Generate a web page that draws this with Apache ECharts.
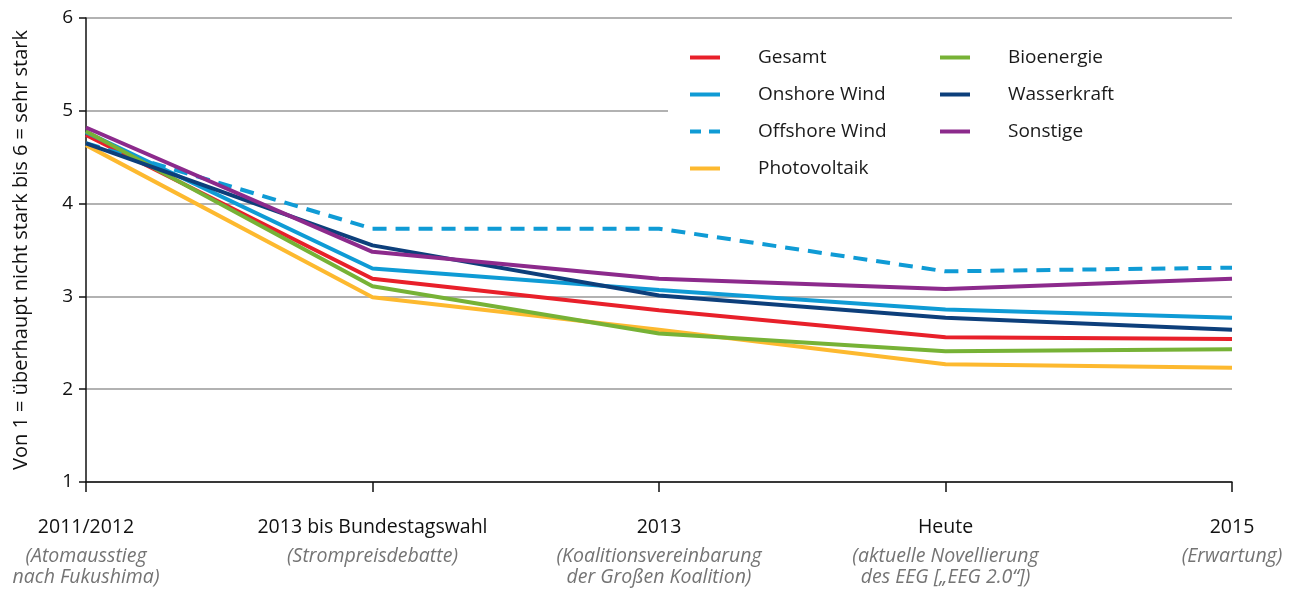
<!DOCTYPE html>
<html><head><meta charset="utf-8">
<script src="https://cdn.jsdelivr.net/npm/echarts@6/dist/echarts.min.js"></script>
<style>html,body{margin:0;padding:0;background:#fff}#c{width:1298px;height:590px}</style>
</head><body><div id="c"></div>
<script>
const categories = ['2011/2012', '2013 bis Bundestagswahl', '2013', 'Heute', '2015'];
const subtitles = ['(Atomausstieg\nnach Fukushima)', '(Strompreisdebatte)', '(Koalitionsvereinbarung\nder Großen Koalition)', '(aktuelle Novellierung\ndes EEG [„EEG 2.0“])', '(Erwartung)'];
const gesamt = [4.74, 3.19, 2.85, 2.56, 2.54];
const onshore = [4.77, 3.30, 3.07, 2.86, 2.77];
const offshore = [4.65, 3.73, 3.73, 3.27, 3.31];
const photovoltaik = [4.63, 2.99, 2.64, 2.27, 2.23];
const bioenergie = [4.78, 3.11, 2.60, 2.41, 2.43];
const wasserkraft = [4.65, 3.55, 3.01, 2.77, 2.64];
const sonstige = [4.82, 3.48, 3.19, 3.08, 3.19];
const yTicks = [1, 2, 3, 4, 5, 6];

const FONT = 'Open Sans';
const colors = {
  Gesamt: '#e8202a', 'Onshore Wind': '#0f9bd5', 'Offshore Wind': '#0f9bd5',
  Photovoltaik: '#fdb92f', Bioenergie: '#77b236', Wasserkraft: '#0d3f7b', Sonstige: '#8c2a8c'
};
function mk(name, data, dashed) {
  return {
    name, type: 'line', data, symbol: 'none', smooth: false,
    itemStyle: { color: colors[name] },
    lineStyle: { color: colors[name], width: 4, type: dashed ? [14, 9] : 'solid', cap: 'butt' },
    z: 2
  };
}
const chart = echarts.init(document.getElementById('c'));
const legendCommon = {
  orient: 'vertical', itemWidth: 30, itemHeight: 4, itemGap: 18,
  icon: 'rect',
  textStyle: { fontFamily: FONT, fontSize: 19, color: '#1a1a1a', lineHeight: 18, padding: [0, 0, 0, 33] },
  z: 4
};
chart.setOption({
  animation: false,
  backgroundColor: '#fff',
  grid: { left: 86, right: 66, top: 18, bottom: 108 },
  graphic: [{ type: 'rect', shape: { x: 668, y: 36, width: 564, height: 146 }, style: { fill: '#fff' }, z: 3, silent: true }],
  legend: [
    Object.assign({}, legendCommon, { left: 685, top: 43, data: ['Gesamt', 'Onshore Wind', { name: 'Offshore Wind', icon: 'path://M0,0h11v4h-11z M19,0h11v4h-11z' }, 'Photovoltaik'] }),
    Object.assign({}, legendCommon, { left: 935, top: 43, data: ['Bioenergie', 'Wasserkraft', 'Sonstige'] })
  ],
  xAxis: {
    type: 'category', data: categories, boundaryGap: false,
    axisLine: { lineStyle: { color: '#111', width: 1.5 } },
    axisTick: { show: true, length: 10, alignWithLabel: true, lineStyle: { color: '#111', width: 1.5 } },
    axisLabel: {
      interval: 0, margin: 26,
      formatter: (v, i) => '{a|' + v + '}\n' + subtitles[i].split('\n').map(s => '{b|' + s + '}').join('\n'),
      rich: {
        a: { fontFamily: FONT, fontSize: 19.5, color: '#111', lineHeight: 38, align: 'center' },
        b: { fontFamily: FONT, fontSize: 19.5, fontStyle: 'italic', color: '#747474', lineHeight: 21, align: 'center' }
      }
    },
    splitLine: { show: false }
  },
  yAxis: {
    type: 'value', min: 1, max: 6, interval: 1,
    name: 'Von 1 = überhaupt nicht stark bis 6 = sehr stark',
    nameLocation: 'middle', nameGap: 55,
    nameTextStyle: { fontFamily: FONT, fontSize: 20, color: '#111' },
    axisLine: { show: true, lineStyle: { color: '#111', width: 1.5 } },
    axisTick: { show: true, length: 7, lineStyle: { color: '#111', width: 1.5 } },
    axisLabel: { fontFamily: FONT, fontSize: 19, color: '#111', margin: 13, formatter: v => yTicks.includes(v) ? String(v) : '' },
    splitLine: { show: true, lineStyle: { color: '#999', width: 1.5 } }
  },
  series: [
    mk('Gesamt', gesamt), mk('Onshore Wind', onshore), mk('Offshore Wind', offshore, true),
    mk('Photovoltaik', photovoltaik), mk('Bioenergie', bioenergie), mk('Wasserkraft', wasserkraft),
    mk('Sonstige', sonstige)
  ]
});
</script></body></html>
